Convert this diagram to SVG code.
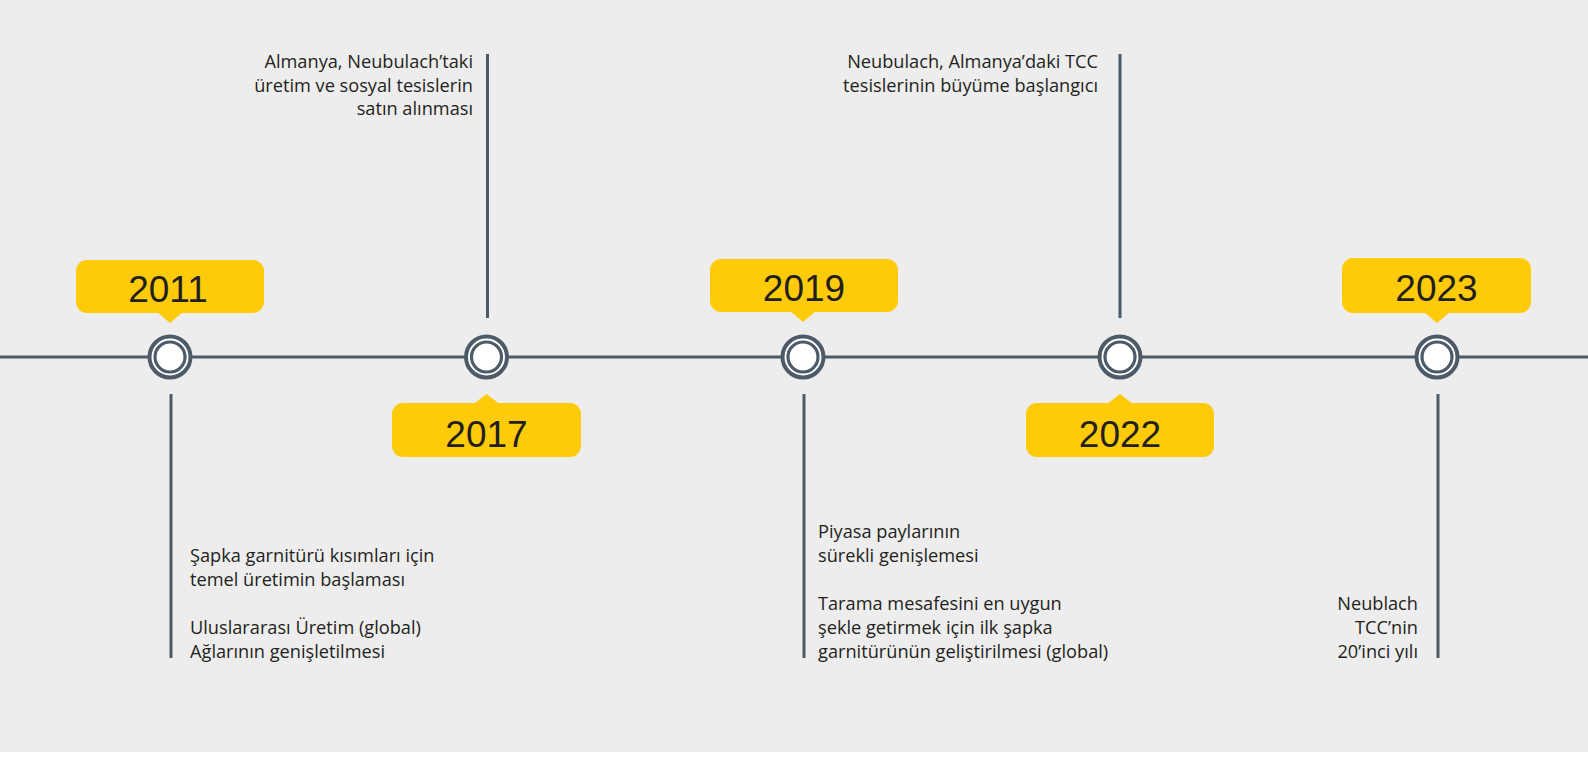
<svg xmlns="http://www.w3.org/2000/svg" width="1588" height="760" viewBox="0 0 1588 760">
<style>
.bg{fill:#ededed}
.ln{stroke:#4c5b67;stroke-width:3;fill:none}
.ring{fill:#ffffff;stroke:#4c5b67;stroke-width:4}
.core{fill:#ffffff;stroke:#4c5b67;stroke-width:3.2}
.bub{fill:#fecb0b}
.yr{font-family:"Liberation Sans",Arial,sans-serif;font-size:37px;fill:#231f20;text-anchor:middle}
.tx{font-family:"Open Sans","Noto Sans",sans-serif;font-size:18.2px;fill:#231f20}
.r{text-anchor:end}
</style>
<rect width="1588" height="760" fill="#ffffff"/>
<rect class="bg" x="0" y="0" width="1588" height="752"/>
<g id="connectors">
<line class="ln" x1="0" y1="357" x2="1588" y2="357"/>
<line class="ln" x1="171" y1="394" x2="171" y2="658"/>
<line class="ln" x1="487.5" y1="54" x2="487.5" y2="318"/>
<line class="ln" x1="804" y1="394" x2="804" y2="658"/>
<line class="ln" x1="1120" y1="54" x2="1120" y2="318"/>
<line class="ln" x1="1438" y1="394" x2="1438" y2="658"/>
</g>
<g id="node-2011">
<circle class="ring" cx="170" cy="357" r="20.5"/>
<circle class="core" cx="170" cy="357" r="15"/>
<rect class="bub" x="76" y="260" width="188" height="53" rx="11"/>
<polygon class="bub" points="157,312 183,312 170,323"/>
<text class="yr" x="168" y="301.5">2011</text>
<text class="tx" x="190"><tspan x="190" y="562">Şapka garnitürü kısımları için</tspan><tspan x="190" y="586">temel üretimin başlaması</tspan><tspan x="190" y="634">Uluslararası Üretim (global)</tspan><tspan x="190" y="658">Ağlarının genişletilmesi</tspan></text>
</g>
<g id="node-2017">
<circle class="ring" cx="486.5" cy="357" r="20.5"/>
<circle class="core" cx="486.5" cy="357" r="15"/>
<rect class="bub" x="392" y="403" width="189" height="54" rx="11"/>
<polygon class="bub" points="473.5,404 499.5,404 486.5,394"/>
<text class="yr" x="486.5" y="446.5">2017</text>
<text class="tx r"><tspan x="473" y="68">Almanya, Neubulach’taki</tspan><tspan x="473" y="91.5">üretim ve sosyal tesislerin</tspan><tspan x="473" y="115">satın alınması</tspan></text>
</g>
<g id="node-2019">
<circle class="ring" cx="803" cy="357" r="20.5"/>
<circle class="core" cx="803" cy="357" r="15"/>
<rect class="bub" x="710" y="259" width="188" height="53" rx="11"/>
<polygon class="bub" points="790,311 816,311 803,322"/>
<text class="yr" x="804" y="300.5">2019</text>
<text class="tx"><tspan x="818" y="538">Piyasa paylarının</tspan><tspan x="818" y="562">sürekli genişlemesi</tspan><tspan x="818" y="610">Tarama mesafesini en uygun</tspan><tspan x="818" y="634">şekle getirmek için ilk şapka</tspan><tspan x="818" y="658">garnitürünün geliştirilmesi (global)</tspan></text>
</g>
<g id="node-2022">
<circle class="ring" cx="1120" cy="357" r="20.5"/>
<circle class="core" cx="1120" cy="357" r="15"/>
<rect class="bub" x="1026" y="403" width="188" height="54" rx="11"/>
<polygon class="bub" points="1107,404 1133,404 1120,394"/>
<text class="yr" x="1120" y="446.5">2022</text>
<text class="tx r"><tspan x="1098" y="68">Neubulach, Almanya’daki TCC</tspan><tspan x="1098" y="92">tesislerinin büyüme başlangıcı</tspan></text>
</g>
<g id="node-2023">
<circle class="ring" cx="1437" cy="357" r="20.5"/>
<circle class="core" cx="1437" cy="357" r="15"/>
<rect class="bub" x="1342" y="258" width="189" height="55" rx="11"/>
<polygon class="bub" points="1424,312 1450,312 1437,323"/>
<text class="yr" x="1436.5" y="300.5">2023</text>
<text class="tx r"><tspan x="1418" y="610">Neublach</tspan><tspan x="1418" y="634">TCC’nin</tspan><tspan x="1418" y="658">20’inci yılı</tspan></text>
</g>
</svg>
